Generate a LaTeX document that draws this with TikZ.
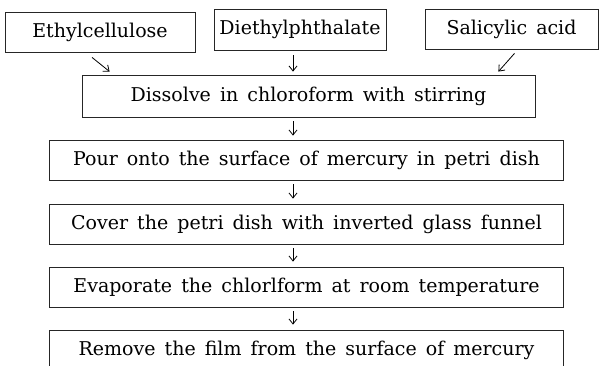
\documentclass[tikz,border=0pt]{standalone}
\usepackage{amsmath, amssymb, amsfonts, tikz}
\usepackage{fontspec}
\setmainfont{DejaVu Serif}[WordSpace=1.5]
\usetikzlibrary{arrows.meta, calc}

\begin{document}
\begin{tikzpicture}[x=1pt, y=-1pt,
    stepbox/.style={draw=black!85, line width=0.8pt, inner sep=0pt,
        font=\fontsize{19}{23}\selectfont},
    flow/.style={-{Straight Barb[length=5pt, width=8pt]}, line width=0.8pt}]
    \useasboundingbox (0,0) rectangle (602,366);

    % 1. Starting materials
    \node[stepbox, minimum width=190pt, minimum height=40pt] (eth) at (100,32) {Ethylcellulose};
    \node[stepbox, minimum width=172pt, minimum height=41pt] (die) at (300,29.5) {Diethylphthalate};
    \node[stepbox, minimum width=173pt, minimum height=40pt] (sal) at (511.5,29) {Salicylic acid};

    % 2. Process steps
    \node[stepbox, minimum width=453pt, minimum height=42pt] (dis) at (308.5,96) {Dissolve in chloroform with stirring};
    \node[stepbox, minimum width=514pt, minimum height=40pt] (pour) at (306.5,160) {Pour onto the surface of mercury in petri dish};
    \node[stepbox, minimum width=514pt, minimum height=40pt] (cover) at (306.5,224) {Cover the petri dish with inverted glass funnel};
    \node[stepbox, minimum width=514pt, minimum height=40pt] (evap) at (306.5,287) {Evaporate the chlorlform at room temperature};
    \node[stepbox, minimum width=514pt, minimum height=40pt] (rem) at (306.5,350) {Remove the film from the surface of mercury};

    % 3. Arrows
    \coordinate (axis) at (293,0);
    \draw[flow] ($(eth.south)+(-8,5)$) -- ($(dis.north west)+(28,-3)$);
    \draw[flow, shorten <=5pt, shorten >=3pt] (die.south -| axis) -- (dis.north -| axis);
    \draw[flow] ($(sal.south)+(3,4)$) -- ($(dis.north east)+(-37,-3)$);
    \draw[flow, shorten <=4pt, shorten >=4pt] (dis.south -| axis) -- (pour.north -| axis);
    \draw[flow, shorten <=4pt, shorten >=5pt] (pour.south -| axis) -- (cover.north -| axis);
    \draw[flow, shorten <=4pt, shorten >=5pt] (cover.south -| axis) -- (evap.north -| axis);
    \draw[flow, shorten <=4pt, shorten >=5pt] (evap.south -| axis) -- (rem.north -| axis);

\end{tikzpicture}
\end{document}
